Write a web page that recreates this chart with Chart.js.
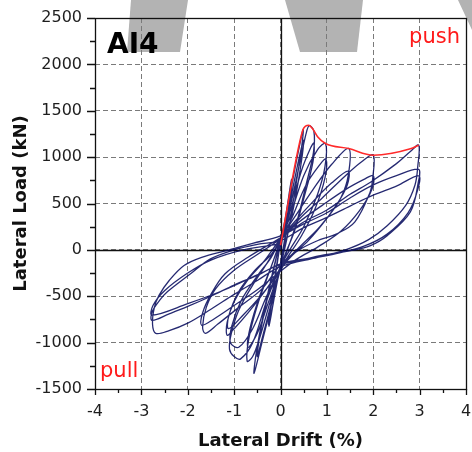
<!DOCTYPE html>
<html>
<head>
<meta charset="utf-8">
<title>AI4 lateral load vs drift</title>
<script src="https://cdn.jsdelivr.net/npm/chart.js@4.4.0/dist/chart.umd.min.js"></script>
<style>
  html, body { margin: 0; padding: 0; background: #fff; }
  #wrap { width: 472px; height: 452px; }
</style>
</head>
<body>
<div id="wrap"><canvas id="hysteresis-chart" width="472" height="452"></canvas></div>
<script>
// axis ranges (drift in %, load in kN)
const driftRange = [-4, 4];
const loadRange = [-1500, 2500];

// measured loops, [drift %, load kN], grouped by target drift level
const loop025 = [
  [0, 0], [0.1, 300], [0.2, 650], [0.24, 760], [0.2, 550], [0.1, 150], [0, -150],
  [-0.1, -400], [-0.2, -700], [-0.25, -820], [-0.2, -600], [-0.1, -250], [0, 80],
  [0.1, 330], [0.2, 640], [0.25, 740], [0.2, 520], [0.1, 120], [0, -170],
  [-0.1, -420], [-0.2, -690], [-0.26, -800], [-0.2, -560], [-0.1, -220], [0, 90]
];
const loop050 = [
  [0.1, 330], [0.25, 720], [0.4, 1100], [0.49, 1300], [0.44, 1050], [0.3, 600], [0.15, 150], [0, -180],
  [-0.2, -600], [-0.4, -1000], [-0.57, -1330], [-0.52, -1100], [-0.35, -650], [-0.15, -200], [0, 100],
  [0.15, 380], [0.3, 750], [0.45, 1100], [0.5, 1180], [0.45, 950], [0.3, 500], [0.12, 100], [0, -200],
  [-0.2, -580], [-0.4, -960], [-0.5, -1150], [-0.45, -930], [-0.3, -560], [-0.12, -150], [0, 100]
];
const loop075 = [
  [0.2, 450], [0.4, 900], [0.55, 1250], [0.62, 1340], [0.72, 1280], [0.71, 1050], [0.55, 700], [0.35, 300], [0.15, 0], [0, -200],
  [-0.2, -520], [-0.45, -950], [-0.6, -1150], [-0.72, -1200], [-0.68, -950], [-0.5, -600], [-0.25, -250], [0, 100],
  [0.2, 400], [0.45, 850], [0.65, 1100], [0.72, 1150], [0.7, 950], [0.5, 550], [0.3, 200], [0.1, -50], [0, -200],
  [-0.25, -550], [-0.5, -900], [-0.7, -1050], [-0.66, -850], [-0.45, -500], [-0.2, -180], [0, 100]
];
const loop100 = [
  [0.2, 350], [0.5, 800], [0.8, 1080], [0.97, 1147], [0.96, 900], [0.8, 600], [0.5, 250], [0.2, 0], [0, -180],
  [-0.3, -550], [-0.6, -1000], [-0.86, -1175], [-1.0, -1150], [-1.1, -1070], [-1.06, -900], [-0.9, -650], [-0.6, -380], [-0.3, -150], [0, 100],
  [0.25, 350], [0.55, 700], [0.85, 920], [0.98, 980], [0.96, 780], [0.75, 450], [0.45, 150], [0.15, -80], [0, -200],
  [-0.3, -500], [-0.6, -850], [-0.9, -1050], [-1.08, -1000], [-1.05, -820], [-0.85, -550], [-0.5, -280], [-0.2, -80], [0, 120]
];
const loop150 = [
  [0.3, 350], [0.7, 650], [1.1, 920], [1.47, 1093], [1.46, 800], [1.3, 560], [1.0, 340], [0.6, 100], [0.25, -60], [0, -200],
  [-0.3, -420], [-0.7, -680], [-1.0, -850], [-1.15, -920], [-1.15, -780], [-1.0, -560], [-0.7, -320], [-0.35, -120], [0, 120],
  [0.3, 300], [0.7, 520], [1.1, 720], [1.46, 850], [1.44, 700], [1.2, 480], [0.85, 250], [0.45, 50], [0.15, -100], [0, -220],
  [-0.4, -480], [-0.8, -700], [-1.12, -850], [-1.12, -720], [-0.9, -450], [-0.55, -220], [-0.2, -50], [0, 100]
];
const loop200 = [
  [0.4, 330], [0.9, 560], [1.4, 800], [1.75, 950], [2.0, 1021], [1.99, 780], [1.93, 620], [1.6, 300], [1.2, 170], [0.85, 110], [0.4, 0], [0, -160],
  [-0.4, -420], [-0.9, -620], [-1.35, -800], [-1.62, -900], [-1.68, -830], [-1.6, -620], [-1.4, -420], [-1.0, -220], [-0.5, -50], [0, 120],
  [0.4, 300], [0.9, 480], [1.4, 650], [1.8, 760], [2.0, 800], [1.97, 650], [1.7, 420], [1.3, 200], [0.8, 30], [0.35, -100], [0, -230],
  [-0.5, -430], [-1.0, -600], [-1.45, -750], [-1.7, -812], [-1.68, -680], [-1.5, -480], [-1.2, -260], [-0.7, -80], [0, 130]
];
const loop300 = [
  [0.5, 300], [1.0, 430], [1.5, 600], [1.94, 730], [2.5, 930], [2.8, 1060], [2.98, 1129], [2.96, 900], [2.9, 700], [2.7, 480], [2.3, 260], [1.9, 110], [1.4, 0], [0.8, -80], [0, -180],
  [-0.5, -330], [-1.0, -480], [-1.5, -640], [-2.0, -790], [-2.4, -870], [-2.69, -900], [-2.76, -800], [-2.72, -620], [-2.62, -490], [-2.4, -330], [-2.08, -168], [-1.7, -80], [-1.15, -5], [-0.6, 70], [0, 150],
  [0.5, 280], [1.0, 400], [1.5, 560], [2.0, 700], [2.5, 800], [2.98, 869], [2.97, 726], [2.8, 408], [2.3, 153], [1.94, 46], [1.6, 0], [1.0, -50], [0.5, -100], [0, -150],
  [-0.43, -258], [-1.0, -380], [-1.5, -500], [-2.0, -610], [-2.4, -690], [-2.77, -760], [-2.77, -669], [-2.6, -540], [-2.44, -452], [-1.94, -258], [-1.51, -97], [-1.0, 0], [-0.5, 60], [0, 100],
  [0.5, 240], [1.0, 350], [1.51, 475], [2.0, 590], [2.51, 690], [2.98, 797], [2.96, 650], [2.75, 400], [2.3, 170], [1.8, 40], [1.2, -40], [0.5, -110], [0, -160],
  [-0.5, -270], [-1.2, -430], [-2.0, -580], [-2.77, -705], [-2.75, -600], [-2.5, -440], [-2.0, -250], [-1.5, -110], [-0.8, 0], [0, 64]
];

// push-side backbone (peak of each drift level)
const envDrift = [0, 0.48, 0.54, 0.61, 0.7, 0.8, 0.97, 1.47, 2.0, 2.8, 2.98];
const envLoad = [50, 1290, 1335, 1344, 1300, 1220, 1147, 1093, 1021, 1090, 1129];

// grey banner shapes across the top edge (canvas px)
const bannerShapes = [
  [[131, 0], [188, 0], [180, 52], [127, 52]],
  [[285, 0], [363, 0], [357, 52], [300, 52]],
  [[458, 0], [472, 0], [472, 30]]
];

const FONT = 'DejaVu Sans';

document.addEventListener('DOMContentLoaded', function() {
    initHysteresisChart();
});

function initHysteresisChart() {
    const ctx = document.getElementById('hysteresis-chart');
    if (!ctx) return;

    const loops = [loop025, loop050, loop075, loop100, loop150, loop200, loop300];
    const hysteresis = loops.flat().map(([d, f]) => ({ x: d, y: f }));
    const envelope = envDrift.map((d, i) => ({ x: d, y: envLoad[i] }));

    const backdrop = {
        id: 'backdrop',
        beforeDraw(chart) {
            const c = chart.ctx;
            c.save();
            c.fillStyle = '#fff';
            c.fillRect(0, 0, chart.width, chart.height);
            c.fillStyle = '#b3b3b3';
            bannerShapes.forEach(shape => {
                c.beginPath();
                shape.forEach(([px, py], i) => i ? c.lineTo(px, py) : c.moveTo(px, py));
                c.closePath();
                c.fill();
            });
            c.restore();
        }
    };

    const frameAxes = {
        id: 'frameAxes',
        beforeDatasetsDraw(chart) {
            const { ctx: c, chartArea: a, scales: { x, y } } = chart;
            const x0 = Math.round(x.getPixelForValue(0)) + 0.5;
            const y0 = Math.round(y.getPixelForValue(0)) + 0.5;
            c.save();
            c.strokeStyle = '#111';
            c.lineWidth = 1.3;
            c.beginPath();
            c.moveTo(x0, a.top); c.lineTo(x0, a.bottom);
            c.moveTo(a.left, y0); c.lineTo(a.right, y0);
            c.stroke();
            c.restore();
        },
        afterDraw(chart) {
            const { ctx: c, chartArea: a, scales: { x, y } } = chart;
            c.save();
            c.strokeStyle = '#111';
            c.lineWidth = 1.3;
            c.strokeRect(Math.round(a.left) + 0.5, Math.round(a.top) + 0.5,
                Math.round(a.right - a.left), Math.round(a.bottom - a.top));

            // outside ticks, major + minor
            c.beginPath();
            for (let v = loadRange[0]; v <= loadRange[1]; v += 250) {
                const py = Math.round(y.getPixelForValue(v)) + 0.5;
                const len = v % 500 === 0 ? 8 : 5;
                c.moveTo(a.left - len, py); c.lineTo(a.left, py);
            }
            for (let v = driftRange[0]; v <= driftRange[1]; v += 0.5) {
                const px = Math.round(x.getPixelForValue(v)) + 0.5;
                const len = Number.isInteger(v) ? 6 : 4;
                c.moveTo(px, a.bottom); c.lineTo(px, a.bottom + len);
            }
            c.stroke();

            c.textBaseline = 'alphabetic';
            c.fillStyle = '#000';
            c.font = 'bold 28px "' + FONT + '"';
            c.textAlign = 'left';
            c.fillText('AI4', a.left + 12, a.top + 35);

            c.fillStyle = '#ff1a1a';
            c.font = '21px "' + FONT + '"';
            c.textAlign = 'right';
            c.fillText('push', a.right - 6, a.top + 25);
            c.textAlign = 'left';
            c.fillText('pull', a.left + 5, a.bottom - 12);
            c.restore();
        }
    };

    new Chart(ctx, {
        type: 'scatter',
        data: {
            datasets: [
                {
                    label: 'Envelope (push)',
                    data: envelope,
                    showLine: true,
                    borderColor: '#ff2a2a',
                    borderWidth: 1.6,
                    pointRadius: 0,
                    cubicInterpolationMode: 'monotone'
                },
                {
                    label: 'Hysteresis',
                    data: hysteresis,
                    showLine: true,
                    borderColor: 'rgba(8, 12, 95, 0.88)',
                    borderWidth: 1.3,
                    pointRadius: 0,
                    tension: 0.35
                }
            ]
        },
        options: {
            responsive: false,
            animation: false,
            layout: { padding: { left: 0, right: 6, top: 18, bottom: 0 } },
            scales: {
                x: {
                    type: 'linear',
                    min: driftRange[0],
                    max: driftRange[1],
                    ticks: {
                        stepSize: 1, color: '#1e1e1e', font: { family: FONT, size: 16 }, padding: 13,
                        callback: v => String(v)
                    },
                    grid: { color: '#7a7a7a', lineWidth: 1, drawTicks: false },
                    border: { display: false, dash: [5, 3] },
                    title: {
                        display: true,
                        text: 'Lateral Drift (%)',
                        color: '#111',
                        font: { family: FONT, size: 18, weight: 'bold' },
                        padding: { top: 0, bottom: 0 }
                    },
                    afterFit(scale) {
                        scale.height = 63;
                        scale.paddingLeft = 0;
                        scale.paddingRight = 0;
                    }
                },
                y: {
                    type: 'linear',
                    min: loadRange[0],
                    max: loadRange[1],
                    ticks: {
                        stepSize: 500, color: '#1e1e1e', font: { family: FONT, size: 16 }, padding: 13,
                        callback: v => String(v)
                    },
                    grid: { color: '#7a7a7a', lineWidth: 1, drawTicks: false },
                    border: { display: false, dash: [5, 3] },
                    title: {
                        display: true,
                        text: 'Lateral Load (kN)',
                        color: '#111',
                        font: { family: FONT, size: 18, weight: 'bold' },
                        padding: { top: 11, bottom: 0 }
                    },
                    afterFit(scale) {
                        scale.width = 95;
                        scale.paddingTop = 0;
                        scale.paddingBottom = 0;
                    }
                }
            },
            plugins: {
                legend: { display: false },
                tooltip: { enabled: false }
            }
        },
        plugins: [backdrop, frameAxes]
    });
}
</script>
</body>
</html>
